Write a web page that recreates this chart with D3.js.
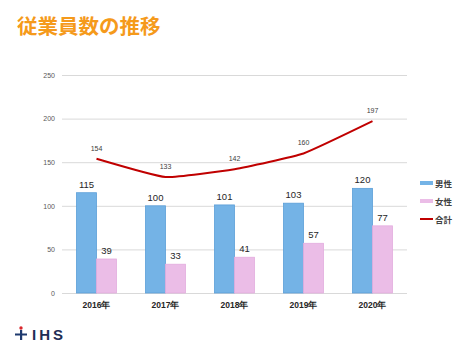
<!DOCTYPE html>
<html>
<head>
<meta charset="utf-8">
<script src="https://cdn.jsdelivr.net/npm/d3@7"></script>
<style>
  body { margin: 0; background: #fff; }
  svg { display: block; font-family: "Noto Sans CJK JP", "Noto Sans", sans-serif; }
</style>
</head>
<body>
<svg id="chart" width="470" height="353"></svg>
<script>
// chart values
const years = ['2016年', '2017年', '2018年', '2019年', '2020年']
const male = [115, 100, 101, 103, 120]
const female = [39, 33, 41, 57, 77]
const total = [154, 133, 142, 160, 197]
const yTicks = [0, 50, 100, 150, 200, 250]

const svg = d3.select('#chart')
const margin = { left: 62, right: 63, top: 75, bottom: 60 }
const width = 470 - margin.left - margin.right
const height = 353 - margin.top - margin.bottom

// title
svg.append('text')
  .attr('x', 17).attr('y', 34)
  .attr('fill', '#f59a1b')
  .attr('font-size', 20.5).attr('font-weight', 'bold')
  .text('従業員数の推移')

const g = svg.append('g').attr('transform', `translate(${margin.left},${margin.top})`)

const x = d3.scaleBand().domain(years).range([0, width])
const y = d3.scaleLinear().domain([0, 250]).range([height, 0])
const barW = 20

// gridlines
g.append('g')
  .call(d3.axisLeft(y).tickValues(yTicks).tickSize(-width).tickPadding(7))
  .call(s => s.select('.domain').remove())
  .call(s => s.selectAll('line').attr('stroke', '#d9d9d9').attr('stroke-width', 1))
  .call(s => s.selectAll('text').attr('fill', '#595959').attr('font-size', 7).attr('font-family', 'Liberation Sans, sans-serif'))

// x labels
g.append('g')
  .attr('transform', `translate(0,${height})`)
  .call(d3.axisBottom(x).tickSize(0).tickPadding(9))
  .call(s => s.select('.domain').remove())
  .call(s => s.selectAll('text').attr('fill', '#262626').attr('font-size', 8.5).attr('font-weight', 'bold'))

// bars
const cx = d => x(d) + x.bandwidth() / 2
g.selectAll('.male').data(years).enter().append('rect')
  .attr('x', d => cx(d) - barW)
  .attr('y', (d, i) => y(male[i]))
  .attr('width', barW)
  .attr('height', (d, i) => height - y(male[i]))
  .attr('fill', '#74b3e6').attr('stroke', '#5b9ed8').attr('stroke-width', 0.8)
g.selectAll('.female').data(years).enter().append('rect')
  .attr('x', d => cx(d))
  .attr('y', (d, i) => y(female[i]))
  .attr('width', barW)
  .attr('height', (d, i) => height - y(female[i]))
  .attr('fill', '#ebbde7').attr('stroke', '#e3acde').attr('stroke-width', 0.8)

// bar labels
g.selectAll('.mlab').data(years).enter().append('text')
  .attr('x', d => cx(d) - barW / 2)
  .attr('y', (d, i) => y(male[i]) - 5)
  .attr('text-anchor', 'middle')
  .attr('font-size', 9.5).attr('fill', '#262626')
  .attr('font-family', 'Liberation Sans, sans-serif')
  .text((d, i) => male[i])
g.selectAll('.flab').data(years).enter().append('text')
  .attr('x', d => cx(d) + barW / 2)
  .attr('y', (d, i) => y(female[i]) - 5)
  .attr('text-anchor', 'middle')
  .attr('font-size', 9.5).attr('fill', '#262626')
  .attr('font-family', 'Liberation Sans, sans-serif')
  .text((d, i) => female[i])

// total line
const line = d3.line()
  .x((d, i) => cx(years[i]))
  .y(d => y(d))
  .curve(d3.curveCardinal.tension(0.6))
g.append('path')
  .datum(total)
  .attr('d', line)
  .attr('fill', 'none')
  .attr('stroke', '#c00000')
  .attr('stroke-width', 2)
g.selectAll('.tlab').data(total).enter().append('text')
  .attr('x', (d, i) => cx(years[i]))
  .attr('y', d => y(d) - 8)
  .attr('text-anchor', 'middle')
  .attr('font-size', 7).attr('fill', '#404040')
  .attr('font-family', 'Liberation Sans, sans-serif')
  .text(d => d)

// legend
const legend = [
  { name: '男性', color: '#74b3e6', h: 4 },
  { name: '女性', color: '#ebbde7', h: 4 },
  { name: '合計', color: '#c00000', h: 2 }
]
const lg = svg.append('g').attr('transform', 'translate(420,183)')
legend.forEach((d, i) => {
  lg.append('rect')
    .attr('x', 0).attr('y', i * 18 - d.h / 2)
    .attr('width', 13).attr('height', d.h)
    .attr('fill', d.color)
  lg.append('text')
    .attr('x', 15).attr('y', i * 18 + 3.5)
    .attr('font-size', 8.5).attr('font-weight', 'bold').attr('fill', '#404040')
    .text(d.name)
})

// logo
const logo = svg.append('g').attr('transform', 'translate(15,338)')
logo.append('circle').attr('cx', 6).attr('cy', -10).attr('r', 1.7).attr('fill', '#d9262c')
logo.append('rect').attr('x', 5).attr('y', -8).attr('width', 2.2).attr('height', 10).attr('fill', '#1f3a6e')
logo.append('rect').attr('x', 0).attr('y', -4.5).attr('width', 12).attr('height', 2).attr('fill', '#1f3a6e')
logo.append('text')
  .attr('x', 17).attr('y', 2)
  .attr('font-size', 15).attr('font-weight', 'bold')
  .attr('letter-spacing', 3)
  .attr('fill', '#1f2d55')
  .attr('font-family', 'Liberation Sans, sans-serif')
  .text('IHS')
</script>
</body>
</html>
